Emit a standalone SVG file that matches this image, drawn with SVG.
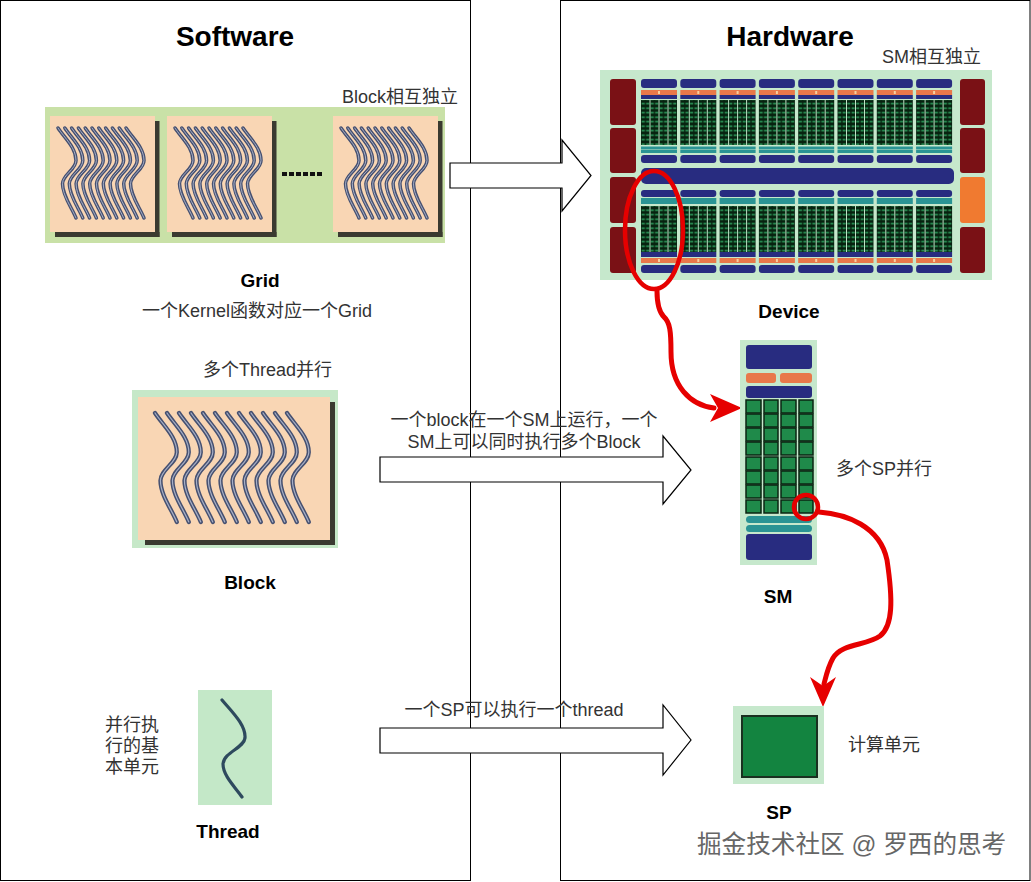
<svg xmlns="http://www.w3.org/2000/svg" xmlns:xlink="http://www.w3.org/1999/xlink" width="1031" height="882" viewBox="0 0 1031 882">
<style>
  text { font-family: "Liberation Sans", Arial, "Noto Sans CJK SC", sans-serif; }
  .title { font-size: 28px; font-weight: bold; fill: #000; text-anchor: middle; }
  .bold { font-size: 19px; font-weight: bold; fill: #000; text-anchor: middle; }
  .lbl { font-size: 18px; fill: #333; }
  .mid { text-anchor: middle; }
  .panel { fill: #fff; stroke: #000; stroke-width: 1; }
  .barrow { fill: #fff; stroke: #000; stroke-width: 1.2; }
  .navy { fill: #282c80; }
  .orange { fill: #e8784a; }
  .teal { fill: #2a9494; }
  .maroon { fill: #7a1115; }
  .peach { fill: #f9d6b4; }
  .shadow { fill: #3a3a30; }
  .red { fill: none; stroke: #e60000; stroke-width: 5; stroke-linecap: round; stroke-linejoin: round; }
  .cell { fill: #1f8a4a; stroke: #0a2412; stroke-width: 1.5; }
  .sep { stroke: #bfe3c6; stroke-width: 1; }
</style>
<defs>
  <g id="w">
    <path d="M0,0 C8,12 20,22 20,36 C20,46 5,52 5,62 C5,75 15,88 20,100" fill="none" stroke="#465070" stroke-width="3.9" stroke-linecap="round"/>
    <path d="M0,0 C8,12 20,22 20,36 C20,46 5,52 5,62 C5,75 15,88 20,100" fill="none" stroke="#a7afc6" stroke-width="1.1" stroke-linecap="round"/>
  </g>
  <g id="gw">
    <use xlink:href="#w" transform="translate(0,0) scale(0.9)"/>
    <use xlink:href="#w" transform="translate(6.8,0) scale(0.9)"/>
    <use xlink:href="#w" transform="translate(13.6,0) scale(0.9)"/>
    <use xlink:href="#w" transform="translate(20.4,0) scale(0.9)"/>
    <use xlink:href="#w" transform="translate(27.2,0) scale(0.9)"/>
    <use xlink:href="#w" transform="translate(34,0) scale(0.9)"/>
    <use xlink:href="#w" transform="translate(40.8,0) scale(0.9)"/>
    <use xlink:href="#w" transform="translate(47.6,0) scale(0.9)"/>
    <use xlink:href="#w" transform="translate(54.4,0) scale(0.9)"/>
    <use xlink:href="#w" transform="translate(61.2,0) scale(0.9)"/>
    <use xlink:href="#w" transform="translate(68,0) scale(0.9)"/>
  </g>
  <pattern id="cores" width="4.5" height="4.5" patternUnits="userSpaceOnUse">
    <rect width="4.5" height="4.5" fill="#07210f"/>
    <rect x="0.6" y="1.4" width="3.2" height="1.6" fill="#2c9a5a"/>
  </pattern>
  <g id="smcolTop">
    <rect x="0" y="0" width="36" height="9" rx="3" class="navy"/>
    <rect x="0" y="11" width="36" height="5" class="orange"/>
    <rect x="17" y="12" width="2" height="3" fill="#f5d0a0"/>
    <rect x="0" y="16" width="36" height="4" class="navy"/>
    <rect x="0" y="21" width="36" height="45" fill="url(#cores)"/>
    <line x1="9" y1="21" x2="9" y2="66" class="sep"/>
    <line x1="18" y1="21" x2="18" y2="66" class="sep"/>
    <line x1="27" y1="21" x2="27" y2="66" class="sep"/>
    <rect x="0" y="67.5" width="36" height="3" class="teal"/>
    <rect x="0" y="71" width="36" height="3" class="teal"/>
    <rect x="0" y="76" width="36" height="8" rx="3" class="navy"/>
  </g>
  <g id="smcolBot">
    <rect x="0" y="0" width="36" height="7" rx="3" class="navy"/>
    <rect x="0" y="8" width="36" height="6" class="teal"/>
    <rect x="0" y="16" width="36" height="46" fill="url(#cores)"/>
    <line x1="9" y1="16" x2="9" y2="62" class="sep"/>
    <line x1="18" y1="16" x2="18" y2="62" class="sep"/>
    <line x1="27" y1="16" x2="27" y2="62" class="sep"/>
    <rect x="0" y="62" width="36" height="5" class="navy"/>
    <rect x="0" y="68" width="36" height="5" class="orange"/>
    <rect x="17" y="69" width="2" height="3" fill="#f5d0a0"/>
    <rect x="0" y="75" width="36" height="8" rx="3" class="navy"/>
  </g>
</defs>

<rect x="0" y="0" width="1031" height="882" fill="#fff"/>

<g id="panels">
  <rect x="0.5" y="0.5" width="470" height="880" class="panel"/>
  <rect x="560.5" y="0.5" width="469.5" height="880" class="panel"/>
  <text x="235" y="46" class="title">Software</text>
  <text x="790" y="46" class="title">Hardware</text>
</g>

<g id="connectors">
  <path d="M450,163 H562 V140 L591,175.5 L562,211 V188 H450 Z" class="barrow"/>
  <path d="M380,457 H663 V436 L691,470 L663,504 V482 H380 Z" class="barrow"/>
  <path d="M380,728 H663 V705 L691,740 L663,775 V753 H380 Z" class="barrow"/>
  <text x="524" y="426" class="lbl mid">一个block在一个SM上运行，一个</text>
  <text x="524" y="448" class="lbl mid">SM上可以同时执行多个Block</text>
  <text x="514" y="716" class="lbl mid">一个SP可以执行一个thread</text>
  <path d="M657,291 C657,305 659,312 664,317 C670,322 671,332 671,352 C671,386 690,405 714,408" class="red"/>
  <polygon points="742,408 710,394 718,408 710,422" fill="#e60000"/>
  <path d="M819,512 C846,514 880,526 887,560 C893,600 893,626 880,636 C866,646 842,643 833,658 C828,667 827,672 824,684" class="red"/>
  <polygon points="823,707 810,677 823,686 836,677" fill="#e60000"/>
</g>

<g id="grid">
  <text x="342" y="103" class="lbl">Block相互独立</text>
  <rect x="45" y="107" width="400" height="136" fill="#c9e1a7"/>
  <rect x="50" y="116" width="105" height="116" class="peach"/>
  <rect x="155" y="121" width="4.5" height="116" class="shadow"/>
  <rect x="55" y="232" width="104.5" height="5" class="shadow"/>
  <use xlink:href="#gw" x="58" y="128"/>
  <rect x="167" y="116" width="105" height="116" class="peach"/>
  <rect x="272" y="121" width="4.5" height="116" class="shadow"/>
  <rect x="172" y="232" width="104.5" height="5" class="shadow"/>
  <use xlink:href="#gw" x="175" y="128"/>
  <rect x="333" y="116" width="105" height="116" class="peach"/>
  <rect x="438" y="121" width="4.5" height="116" class="shadow"/>
  <rect x="338" y="232" width="104.5" height="5" class="shadow"/>
  <use xlink:href="#gw" x="341" y="128"/>
  <g fill="#111">
    <rect x="282" y="172" width="5" height="4"/>
    <rect x="289" y="172" width="5" height="4"/>
    <rect x="296" y="172" width="5" height="4"/>
    <rect x="303" y="172" width="5" height="4"/>
    <rect x="310" y="172" width="5" height="4"/>
    <rect x="317" y="172" width="5" height="4"/>
  </g>
  <text x="260" y="287" class="bold">Grid</text>
  <text x="257" y="317" class="lbl mid">一个Kernel函数对应一个Grid</text>
</g>

<g id="block">
  <text x="203" y="376" class="lbl">多个Thread并行</text>
  <rect x="132" y="390" width="206" height="158" fill="#c6e8c8"/>
  <rect x="138" y="397" width="192" height="143" class="peach"/>
  <rect x="330" y="402" width="5" height="143" class="shadow"/>
  <rect x="145" y="540" width="190" height="5" class="shadow"/>
  <g transform="translate(155,413)">
    <use xlink:href="#w" transform="translate(0,0) scale(1.09)"/>
    <use xlink:href="#w" transform="translate(12,0) scale(1.09)"/>
    <use xlink:href="#w" transform="translate(24,0) scale(1.09)"/>
    <use xlink:href="#w" transform="translate(36,0) scale(1.09)"/>
    <use xlink:href="#w" transform="translate(48,0) scale(1.09)"/>
    <use xlink:href="#w" transform="translate(60,0) scale(1.09)"/>
    <use xlink:href="#w" transform="translate(72,0) scale(1.09)"/>
    <use xlink:href="#w" transform="translate(84,0) scale(1.09)"/>
    <use xlink:href="#w" transform="translate(96,0) scale(1.09)"/>
    <use xlink:href="#w" transform="translate(108,0) scale(1.09)"/>
    <use xlink:href="#w" transform="translate(120,0) scale(1.09)"/>
    <use xlink:href="#w" transform="translate(132,0) scale(1.09)"/>
  </g>
  <text x="250" y="589" class="bold">Block</text>
</g>

<g id="thread">
  <text x="105" y="731" class="lbl">并行执</text>
  <text x="105" y="752" class="lbl">行的基</text>
  <text x="105" y="773" class="lbl">本单元</text>
  <rect x="198" y="690" width="74" height="115" fill="#c4e8c8"/>
  <path d="M222,700 C232,712 246,725 245,738 C244,748 224,752 223,764 C223,776 236,788 242,797" fill="none" stroke="#2e4a5e" stroke-width="3.2" stroke-linecap="round"/>
  <text x="228" y="838" class="bold">Thread</text>
</g>

<g id="device">
  <text x="882" y="63" class="lbl">SM相互独立</text>
  <rect x="600" y="70" width="392" height="210" fill="#c6e8cc"/>
  <rect x="610" y="79" width="26" height="46" rx="3" class="maroon"/>
  <rect x="610" y="128" width="26" height="45" rx="3" class="maroon"/>
  <rect x="610" y="177" width="26" height="46" rx="3" class="maroon"/>
  <rect x="610" y="227" width="26" height="46" rx="3" class="maroon"/>
  <rect x="960" y="79" width="25" height="46" rx="3" class="maroon"/>
  <rect x="960" y="128" width="25" height="45" rx="3" class="maroon"/>
  <rect x="960" y="177" width="25" height="46" rx="3" fill="#f07a30"/>
  <rect x="960" y="227" width="25" height="46" rx="3" class="maroon"/>
  <use xlink:href="#smcolTop" x="641" y="79"/>
  <use xlink:href="#smcolTop" x="680.3" y="79"/>
  <use xlink:href="#smcolTop" x="719.6" y="79"/>
  <use xlink:href="#smcolTop" x="758.9" y="79"/>
  <use xlink:href="#smcolTop" x="798.2" y="79"/>
  <use xlink:href="#smcolTop" x="837.5" y="79"/>
  <use xlink:href="#smcolTop" x="876.8" y="79"/>
  <use xlink:href="#smcolTop" x="916.1" y="79"/>
  <rect x="641" y="168" width="313" height="16" rx="5" class="navy"/>
  <use xlink:href="#smcolBot" x="641" y="190"/>
  <use xlink:href="#smcolBot" x="680.3" y="190"/>
  <use xlink:href="#smcolBot" x="719.6" y="190"/>
  <use xlink:href="#smcolBot" x="758.9" y="190"/>
  <use xlink:href="#smcolBot" x="798.2" y="190"/>
  <use xlink:href="#smcolBot" x="837.5" y="190"/>
  <use xlink:href="#smcolBot" x="876.8" y="190"/>
  <use xlink:href="#smcolBot" x="916.1" y="190"/>
  <ellipse cx="654" cy="230" rx="29" ry="59" fill="none" stroke="#e60000" stroke-width="4.5"/>
  <text x="789" y="318" class="bold">Device</text>
</g>

<g id="sm">
  <rect x="740" y="340" width="77" height="225" fill="#c6e8cc"/>
  <rect x="746" y="345" width="66" height="24" rx="3" class="navy"/>
  <rect x="746" y="373" width="30" height="10" rx="3" class="orange"/>
  <rect x="780" y="373" width="32" height="10" rx="3" class="orange"/>
  <rect x="746" y="386" width="66" height="12" rx="3" class="navy"/>
  <g id="smcells">
    <g>
      <rect x="746" y="400" width="15" height="13" class="cell"/>
      <rect x="764" y="400" width="14" height="13" class="cell"/>
      <rect x="781" y="400" width="15" height="13" class="cell"/>
      <rect x="799" y="400" width="14" height="13" class="cell"/>
    </g>
    <g>
      <rect x="746" y="414" width="15" height="13" class="cell"/>
      <rect x="764" y="414" width="14" height="13" class="cell"/>
      <rect x="781" y="414" width="15" height="13" class="cell"/>
      <rect x="799" y="414" width="14" height="13" class="cell"/>
    </g>
    <g>
      <rect x="746" y="428" width="15" height="13" class="cell"/>
      <rect x="764" y="428" width="14" height="13" class="cell"/>
      <rect x="781" y="428" width="15" height="13" class="cell"/>
      <rect x="799" y="428" width="14" height="13" class="cell"/>
    </g>
    <g>
      <rect x="746" y="442" width="15" height="13" class="cell"/>
      <rect x="764" y="442" width="14" height="13" class="cell"/>
      <rect x="781" y="442" width="15" height="13" class="cell"/>
      <rect x="799" y="442" width="14" height="13" class="cell"/>
    </g>
    <g>
      <rect x="746" y="457" width="15" height="13" class="cell"/>
      <rect x="764" y="457" width="14" height="13" class="cell"/>
      <rect x="781" y="457" width="15" height="13" class="cell"/>
      <rect x="799" y="457" width="14" height="13" class="cell"/>
    </g>
    <g>
      <rect x="746" y="471" width="15" height="13" class="cell"/>
      <rect x="764" y="471" width="14" height="13" class="cell"/>
      <rect x="781" y="471" width="15" height="13" class="cell"/>
      <rect x="799" y="471" width="14" height="13" class="cell"/>
    </g>
    <g>
      <rect x="746" y="485" width="15" height="13" class="cell"/>
      <rect x="764" y="485" width="14" height="13" class="cell"/>
      <rect x="781" y="485" width="15" height="13" class="cell"/>
      <rect x="799" y="485" width="14" height="13" class="cell"/>
    </g>
    <g>
      <rect x="746" y="500" width="15" height="13" class="cell"/>
      <rect x="764" y="500" width="14" height="13" class="cell"/>
      <rect x="781" y="500" width="15" height="13" class="cell"/>
      <rect x="799" y="500" width="14" height="13" class="cell"/>
    </g>
  </g>
  <rect x="746" y="516" width="66" height="7" rx="3.5" class="teal"/>
  <rect x="746" y="525" width="66" height="7" rx="3.5" class="teal"/>
  <rect x="746" y="534" width="66" height="26" rx="3" class="navy"/>
  <circle cx="806" cy="507" r="12" fill="none" stroke="#e60000" stroke-width="4.5"/>
  <text x="836" y="475" class="lbl">多个SP并行</text>
  <text x="778" y="603" class="bold">SM</text>
</g>

<g id="sp">
  <rect x="733" y="706" width="91" height="78" fill="#c6e8cc"/>
  <rect x="742" y="716" width="75" height="61" fill="#138440" stroke="#1a3020" stroke-width="2"/>
  <text x="848" y="751" class="lbl">计算单元</text>
  <text x="779" y="819" class="bold">SP</text>
</g>

<g id="watermark">
  <text x="697" y="853" font-size="24.6" fill="#666" stroke="#ffffff" stroke-width="0.6" paint-order="stroke">掘金技术社区 @ 罗西的思考</text>
</g>
</svg>
